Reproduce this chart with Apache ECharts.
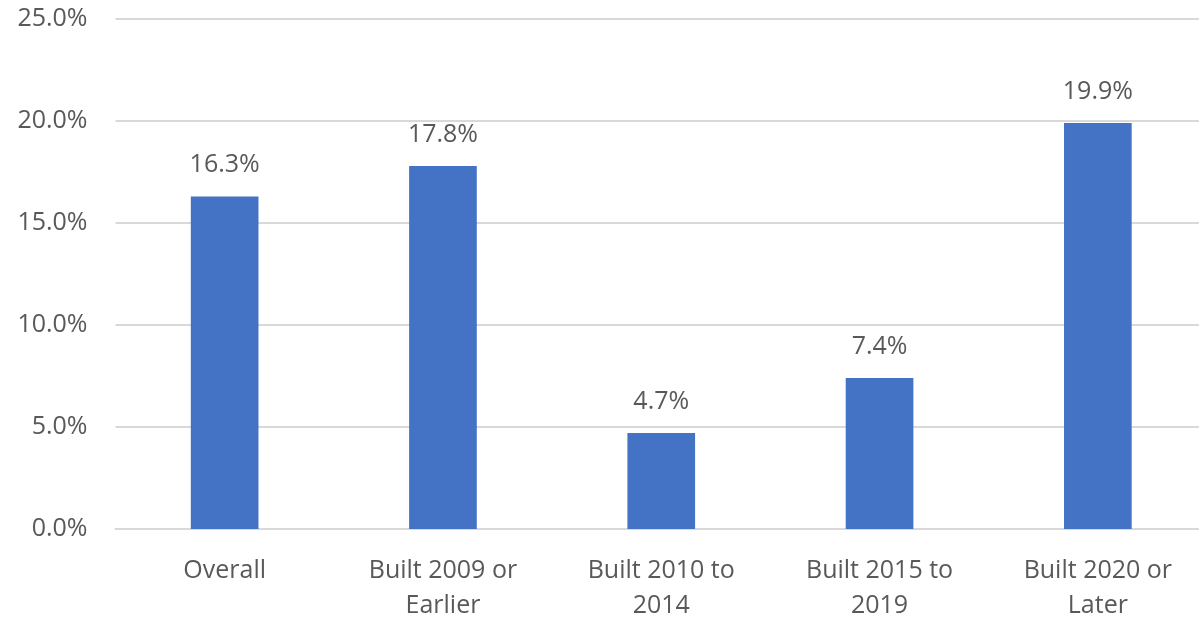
<!DOCTYPE html>
<html>
<head>
<meta charset="utf-8">
<script src="https://cdn.jsdelivr.net/npm/echarts@6/dist/echarts.min.js"></script>
<style>html,body{margin:0;padding:0;background:#fff}#c{width:1199px;height:619px}</style>
</head>
<body>
<div id="c"></div>
<script>
const categories = ["Overall", "Built 2009 or\nEarlier", "Built 2010 to\n2014", "Built 2015 to\n2019", "Built 2020 or\nLater"];
const values = [16.3, 17.8, 4.7, 7.4, 19.9];
const yTicks = { min: 0, max: 25, interval: 5 };

const font = "'Open Sans', 'Noto Sans', sans-serif";
const chart = echarts.init(document.getElementById('c'), null, { renderer: 'canvas' });
chart.setOption({
  animation: false,
  grid: { left: 115.5, right: -8, top: 19, bottom: 90, containLabel: false, outerBoundsMode: 'none' },
  xAxis: {
    type: 'category',
    data: categories,
    axisLine: { show: true, lineStyle: { color: '#d9d9d9', width: 2 } },
    axisTick: { show: false },
    axisLabel: { color: '#595959', fontSize: 25, fontFamily: font, margin: 24, lineHeight: 35, interval: 0 }
  },
  yAxis: {
    type: 'value',
    min: yTicks.min, max: yTicks.max, interval: yTicks.interval,
    axisLine: { show: false },
    axisTick: { show: false },
    splitLine: { lineStyle: { color: '#d9d9d9', width: 2 } },
    axisLabel: { color: '#595959', fontSize: 25, fontFamily: font, margin: 28,
      formatter: v => v.toFixed(1) + '%' }
  },
  series: [{
    type: 'bar',
    data: values,
    barWidth: '31%',
    itemStyle: { color: '#4472c4' },
    label: { show: true, position: 'top', distance: 19, color: '#595959', fontSize: 25, fontFamily: font,
      formatter: p => p.value.toFixed(1) + '%' }
  }]
});
</script>
</body>
</html>
